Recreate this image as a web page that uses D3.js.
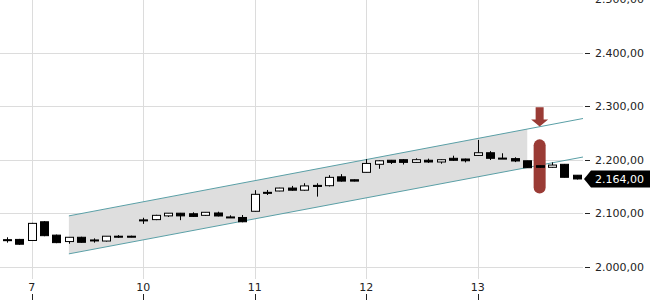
<!DOCTYPE html>
<html><head><meta charset="utf-8">
<script src="https://cdn.jsdelivr.net/npm/d3@7"></script>
<style>body{margin:0;background:#fff}svg{display:block}text{font-family:"DejaVu Sans",sans-serif}</style>
</head><body>
<svg id="c" width="650" height="300"></svg>
<script>
// ---- data ----
const idx   = d3.range(-2, 45);
const open  = [2050.5,2051,2049,2084,2059,2047,2055,2050,2048,2057,2057,
               2087.5,2088,2095,2100,2099,2096,2100.4,2093,2092,
               2103.6,2139,2141.5,2147,2143,2152,2151.4,2168,2162.5,
               2176.4,2191.4,2199,2200,2195,2199,2195.7,2202.6,2201.3,
               2208,2213,2203,2202,2198,2188.8,2185.8,2191.4,2171];
const high  = [2055,2052,2082,2085,2060,2055,2056,2053,2057,2059,2058,
               2091.5,2097,2100,2100.5,2101.7,2102,2102.8,2096,2096.6,
               2143,2143.4,2147.5,2151,2156,2156,2171,2173,2163,
               2201,2199,2199.5,2201,2202.6,2202,2200.5,2207.5,2202,
               2237,2216,2212,2204.5,2198,2189,2195,2192,2171];
const low   = [2045,2041,2048,2057,2044,2043,2045,2045,2047,2054,2055,
               2080,2087,2093,2087,2093,2095,2094,2092,2083,
               2103,2134,2141,2142,2142,2131,2150,2159,2159.5,
               2176,2183,2192,2191,2194,2194,2192.5,2198,2195,
               2207,2199.4,2202,2195.5,2184.6,2185,2185,2167,2163];
const close = [2050,2042,2081,2058,2045,2055,2045.6,2049,2057,2056,2056,
               2087,2096,2100,2095,2094,2101.7,2094.8,2092,2084,
               2135.3,2137.5,2147,2143,2151,2150,2167,2160,2160,
               2193,2198,2195,2195,2200,2195.7,2200,2198.9,2198,
               2213,2202.6,2202.5,2197.6,2185,2185.8,2190,2167.1,2164];
const dayTicks  = [0, 9, 18, 27, 36];
const dayLabels = ["7", "10", "11", "12", "13"];
const priceTicks = [2000, 2100, 2200, 2300, 2400, 2500];
const channelIdx   = [3, 44.5];
const channelUpper = [2095, 2277];
const channelLower = [2024, 2205];
const shadeEndIdx  = 40;
const signalIdx = 41;
const arrowTop = 2298, arrowTip = 2262;
const barHigh = 2238, barLow = 2137;
const lastPrice = 2164;

const fmt = v => d3.format(",.2f")(v).replace(/,/g, "#").replace(".", ",").replace(/#/g, ".");

// ---- scales ----
const plotR = 583;
const x = d3.scaleLinear().domain([-2.56, 44.5]).range([0, plotR]);
const y = d3.scaleLinear().domain([2000, 2500]).range([266.7, -0.8]);
const svg = d3.select("#c");
const plotB = 279;

// grid
const g = svg.append("g");
g.selectAll(".hg").data(priceTicks).join("line")
  .attr("x1", 0).attr("x2", plotR).attr("y1", d => Math.round(y(d)) + 0.5).attr("y2", d => Math.round(y(d)) + 0.5)
  .attr("stroke", "#dcdcdc").attr("stroke-width", 1);
g.selectAll(".vg").data(dayTicks).join("line")
  .attr("x1", d => Math.round(x(d)) + 0.5).attr("x2", d => Math.round(x(d)) + 0.5).attr("y1", 0).attr("y2", plotB)
  .attr("stroke", "#dcdcdc").attr("stroke-width", 1);

// channel
const up = d3.scaleLinear().domain(channelIdx).range(channelUpper);
const lo = d3.scaleLinear().domain(channelIdx).range(channelLower);
const shadePts = [[channelIdx[0], up(channelIdx[0])], [shadeEndIdx, up(shadeEndIdx)],
                  [shadeEndIdx, lo(shadeEndIdx)], [channelIdx[0], lo(channelIdx[0])]];
svg.append("path").attr("d", d3.line().x(d => x(d[0])).y(d => y(d[1]))(shadePts) + "Z")
  .attr("fill", "#dedede");
[[channelUpper],[channelLower]].forEach((c, k) => {
  const vals = k === 0 ? channelUpper : channelLower;
  svg.append("line").attr("x1", x(channelIdx[0])).attr("x2", x(channelIdx[1]))
    .attr("y1", y(vals[0])).attr("y2", y(vals[1]))
    .attr("stroke", "#5a9fa6").attr("stroke-width", 1);
});

// red bar
const red = "#9a3b35";
const bw = 12;
svg.append("rect").attr("x", x(signalIdx) - bw / 2).attr("width", bw)
  .attr("y", y(barHigh)).attr("height", y(barLow) - y(barHigh))
  .attr("rx", 6).attr("ry", 6).attr("fill", red);

// candles
const data = idx.map((i, k) => ({i, o: open[k], h: high[k], l: low[k], c: close[k]}));
const cg = svg.append("g");
const bodyW = 8;
data.forEach(d => {
  const cx = Math.round(x(d.i)) + 0.5;
  cg.append("line").attr("x1", cx).attr("x2", cx).attr("y1", y(d.h)).attr("y2", y(d.l))
    .attr("stroke", "#000").attr("stroke-width", 1);
  const top = y(Math.max(d.o, d.c)), bot = y(Math.min(d.o, d.c));
  const bull = d.c > d.o;
  const h = Math.max(1, bot - top);
  cg.append("rect").attr("x", cx - bodyW / 2).attr("width", bodyW)
    .attr("y", top).attr("height", h)
    .attr("fill", bull ? "#fff" : "#000").attr("stroke", "#000").attr("stroke-width", 1);
});

// arrow
const ax = x(signalIdx), aT = y(arrowTop), aP = y(arrowTip);
const headH = 7;
svg.append("path").attr("fill", red).attr("d",
  `M${ax-4},${aT} L${ax+4},${aT} L${ax+4},${aP-headH} L${ax+8.5},${aP-headH} L${ax},${aP} L${ax-8.5},${aP-headH} L${ax-4},${aP-headH} Z`);

// y axis ticks & labels
const ya = svg.append("g");
ya.selectAll("line").data(priceTicks).join("line")
  .attr("x1", 585).attr("x2", 590).attr("y1", d => Math.round(y(d)) + 0.5).attr("y2", d => Math.round(y(d)) + 0.5)
  .attr("stroke", "#222");
ya.selectAll("text").data(priceTicks).join("text")
  .attr("x", 595).attr("y", d => y(d)).attr("dy", "0.35em")
  .attr("font-size", 11).attr("fill", "#222").text(fmt);

// x axis
const xa = svg.append("g");
xa.selectAll("line").data(dayTicks).join("line")
  .attr("x1", d => Math.round(x(d)) + 0.5).attr("x2", d => Math.round(x(d)) + 0.5)
  .attr("y1", 294).attr("y2", 300).attr("stroke", "#222");
xa.selectAll("text").data(dayTicks).join("text")
  .attr("x", d => x(d)).attr("y", 291).attr("text-anchor", "middle")
  .attr("font-size", 11).attr("fill", "#222").text((d, k) => dayLabels[k]);

// last price tag
const py = y(lastPrice);
svg.append("path").attr("fill", "#000").attr("d",
  `M584,${py} L591,${py-8.5} L650,${py-8.5} L650,${py+8.5} L591,${py+8.5} Z`);
svg.append("text").attr("x", 595).attr("y", py).attr("dy", "0.35em")
  .attr("font-size", 11).attr("fill", "#fff").text(fmt(lastPrice));
</script>
</body></html>
